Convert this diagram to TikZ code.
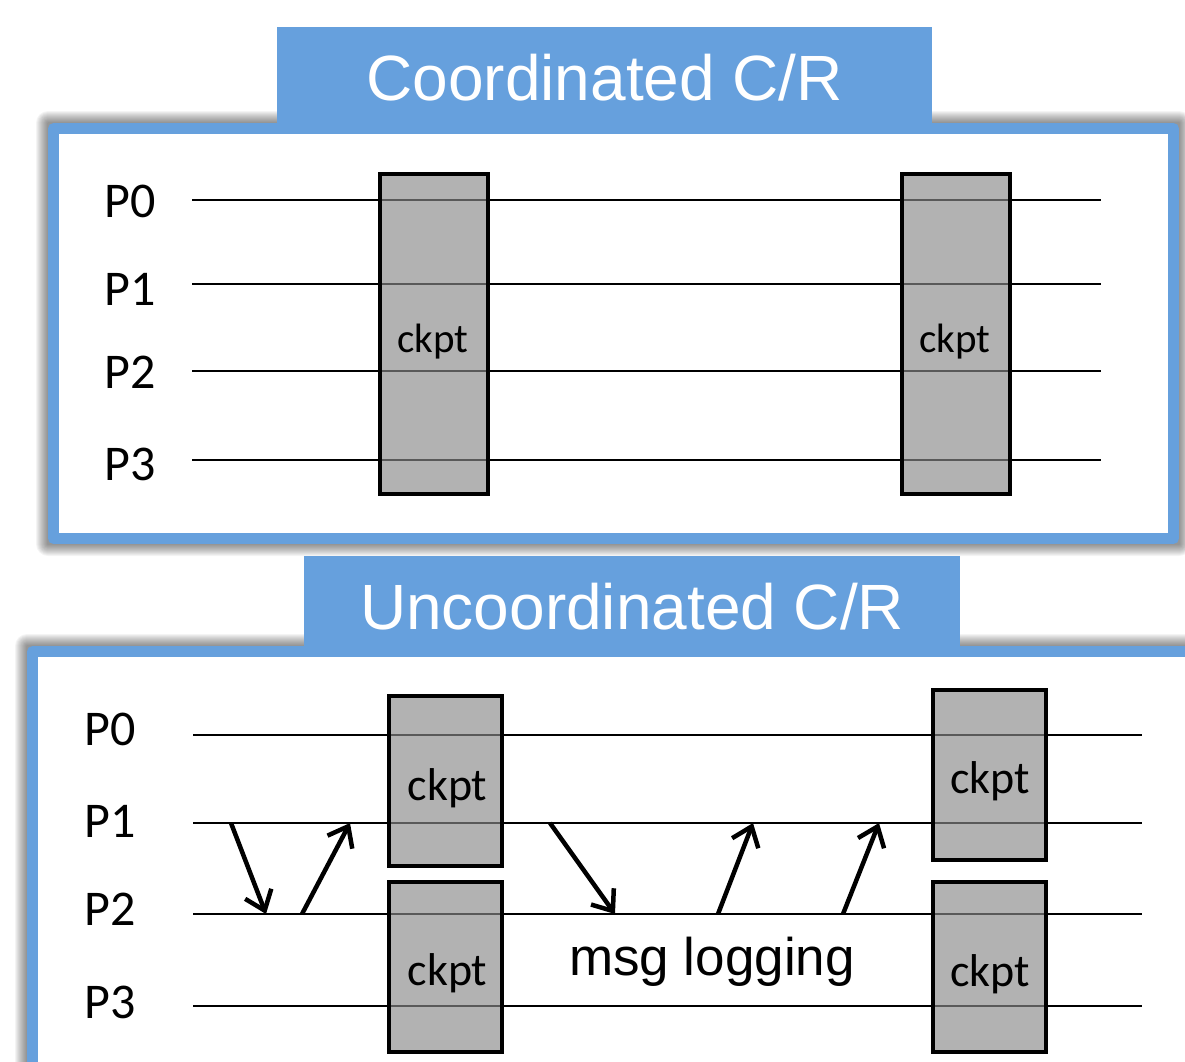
\documentclass[tikz,border=0pt]{standalone}
\usepackage{fontspec}
\setmainfont{Carlito}
\newfontfamily\arialfont{Liberation Sans}
\usetikzlibrary{arrows.meta}
\definecolor{crblue}{RGB}{102,160,221}
\definecolor{ckgray}{RGB}{138,138,138}

\begin{document}
\begin{tikzpicture}[x=1pt,y=-1pt,
        frame/.style={draw=crblue,line width=11pt,fill=white,line join=round},
        title/.style={rectangle,fill=crblue,text=white,inner sep=0pt,font=\arialfont\fontsize{64pt}{64pt}\selectfont},
        pl/.style={inner sep=0pt,font=\fontsize{50pt}{50pt}\selectfont},
        tl/.style={line width=2.6pt},
        ck/.style={rectangle,draw=black,line width=3.2pt,fill=ckgray,fill opacity=0.65,inner sep=0pt,outer sep=0pt,anchor=north west},
        ckl/.style={anchor=base,inner sep=0pt},
        msg/.style={line width=4.5pt,-{Straight Barb[length=18pt,width=28pt,line width=4.5pt]}}]
        \useasboundingbox (0,0) rectangle (1185,1061);
        \clip (0,0) rectangle (1185,1061);

        % shadows and frames
        \foreach \i in {1,...,12}
            \fill[black,opacity=0.045,rounded corners=\i pt] ({48-\i},{123-\i}) rectangle ({1179+\i},{544+\i});
        \draw[frame] (53.5,128.5) rectangle (1173.5,538.5);
        \foreach \i in {1,...,12}
            \fill[black,opacity=0.045,rounded corners=\i pt] ({27-\i},{646-\i}) rectangle (1220,1100);
        \draw[frame] (32.5,651.5) rectangle (1210,1090);

        \node[title,minimum width=655pt,minimum height=100pt,anchor=north west] (t1) at (277,27) {Coordinated C/R};
        \node[title,minimum width=656pt,minimum height=100pt,anchor=north west] (t2) at (304,556) {Uncoordinated C/R};

        % coordinated
        \foreach \p/\y/\ly in {0/200/201.5,1/284/289,2/371/372,3/460/464} {
            \node[pl] (a\p) at (130,\ly) {P\p};
            \coordinate (as\p) at (192,\y);
            \coordinate (ae\p) at (1101,\y);
            \draw[tl] (as\p) -- (ae\p);
        }
        \node[ck,minimum width=108pt,minimum height=320pt] (ck1) at (380,174) {};
        \node[ck,minimum width=108pt,minimum height=320pt] (ck2) at (902,174) {};
        \node[ckl,font=\fontsize{41pt}{41pt}\selectfont] (ckt1) at (433,352) {ckpt};
        \node[ckl,font=\fontsize{41pt}{41pt}\selectfont] (ckt2) at (955,352) {ckpt};

        % uncoordinated
        \foreach \p/\y/\ly in {0/735/729.5,1/823/821,2/914/909,3/1006/1002} {
            \node[pl] (b\p) at (110.5,\ly) {P\p};
            \coordinate (bs\p) at (193,\y);
            \coordinate (be\p) at (1142,\y);
            \draw[tl] (bs\p) -- (be\p);
        }
        \node[ck,minimum width=113pt,minimum height=170pt] (ck3) at (389,696) {};
        \node[ck,minimum width=113pt,minimum height=170pt] (ck4) at (389,882) {};
        \node[ck,minimum width=113pt,minimum height=170pt] (ck5) at (933,690) {};
        \node[ck,minimum width=113pt,minimum height=170pt] (ck6) at (933,882) {};
        \node[ckl,font=\fontsize{46pt}{46pt}\selectfont] (ckt3) at (447.5,800) {ckpt};
        \node[ckl,font=\fontsize{46pt}{46pt}\selectfont] (ckt4) at (447.5,985) {ckpt};
        \node[ckl,font=\fontsize{46pt}{46pt}\selectfont] (ckt5) at (990,793) {ckpt};
        \node[ckl,font=\fontsize{46pt}{46pt}\selectfont] (ckt6) at (990,986) {ckpt};
        \node[ckl,font=\arialfont\fontsize{53pt}{53pt}\selectfont] (log) at (712,975) {msg logging};

        \foreach \n/\xa/\ya/\xb/\yb in {1/231/823/266/914,2/302/914/350/823,3/550/823/615/914,4/718/914/753/823,5/843/914/879/823} {
            \coordinate (ms\n) at (\xa,\ya);
            \coordinate (mt\n) at (\xb,\yb);
            \draw[msg] (ms\n) -- (mt\n);
        }
\end{tikzpicture}
\end{document}
